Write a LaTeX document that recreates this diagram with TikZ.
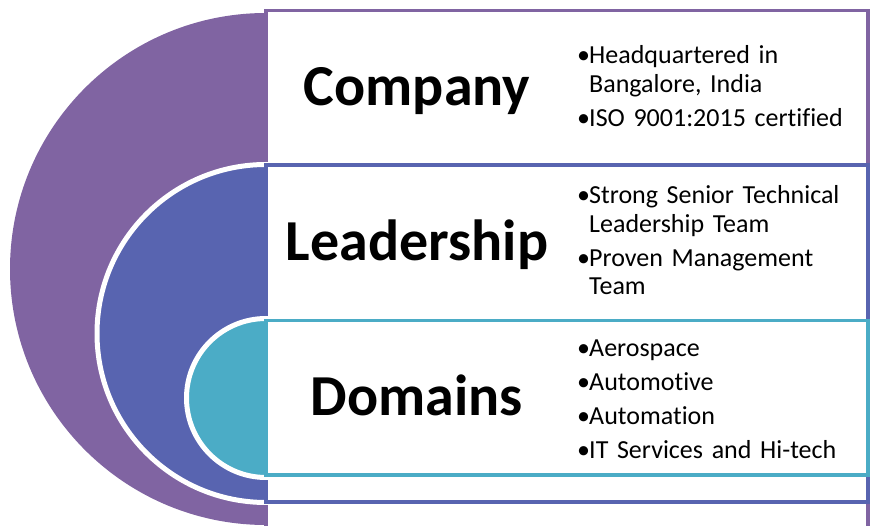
\documentclass[tikz,border=0pt]{standalone}
\usepackage{fontspec}
\setmainfont{Carlito}[Ligatures={NoCommon}]
\usepackage{tikz}
\definecolor{purp}{HTML}{8064A2}
\definecolor{blu}{HTML}{5864B0}
\definecolor{aqua}{HTML}{4BACC6}
\newcommand{\itm}{\makebox[12pt][l]{\textbullet}}
\newcommand{\ind}{\hspace*{12pt}}

\begin{document}
\begin{tikzpicture}[
            x = 1pt, y = -1pt, % pixel units, y down
            panel/.style = {fill = white, line width = 3.5pt},
            disc/.style = {draw = white, line width = 5pt}
        ]

        \tikzstyle{title}=[
            font = \fontsize{58}{60}\selectfont\bfseries,
            anchor = base,
            inner sep = 0pt
        ]
        \tikzstyle{bullets}=[
            font = \fontsize{26}{28.5}\selectfont,
            anchor = base west,
            align = left,
            text width = 290pt,
            inner sep = 0pt
        ]

        \useasboundingbox (0,0) rectangle (871,526);
        \clip (0,0) rectangle (871,526);

        % outer level
        \fill[purp] (266,269) circle[radius=256];
        \draw[panel, draw=purp] (266,10.5) rectangle (868,540);

        % middle level
        \filldraw[disc, fill=blu] (266,333.5) circle[radius=169];
        \draw[panel, draw=blu] (266,165) rectangle (868,502);

        % inner level
        \filldraw[disc, fill=aqua] (266,398) circle[radius=79.5];
        \draw[panel, draw=aqua] (266,320.5) rectangle (868,475);

        % titles
        \node[title] (C) at (417,106) {Company};
        \node[title] (L) at (417,261) {Leadership};
        \node[title] (D) at (417,416) {Domains};

        % bullet lists
        \node[bullets] (C2) at (577,64) {\itm Headquartered in\\\ind Bangalore, India\\[5.5pt]\itm ISO 9001:2015 certified};
        \node[bullets] (L2) at (577,204) {\itm Strong Senior Technical\\\ind Leadership Team\\[5.5pt]\itm Proven Management\\\ind Team};
        \node[bullets] (D2) at (577,357) {\itm Aerospace\\[5.5pt]\itm Automotive\\[5.5pt]\itm Automation\\[5.5pt]\itm IT Services and Hi-tech};

\end{tikzpicture}
\end{document}
